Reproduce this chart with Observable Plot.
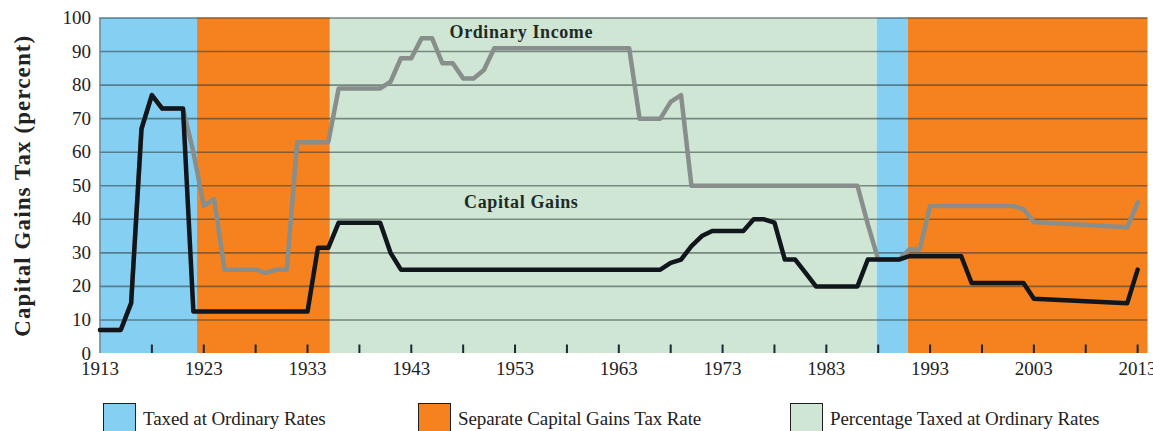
<!DOCTYPE html>
<html>
<head>
<meta charset="utf-8">
<script src="https://cdn.jsdelivr.net/npm/d3@7"></script>
<script src="https://cdn.jsdelivr.net/npm/@observablehq/plot@0.6"></script>
<style>
  html, body { margin: 0; padding: 0; background: #fff; }
  #wrap { position: relative; width: 1153px; height: 431px; overflow: hidden; }
  #chart svg, #chart svg text { font-family: "Liberation Serif", "DejaVu Serif", serif !important; }
  #legend { position: absolute; top: 403px; left: 0; width: 1153px; height: 28px; font-family: "Liberation Serif", serif; font-size: 19px; color: #222; }
  .item { position: absolute; top: 0; height: 28px; }
  .box { position: absolute; left: 0; top: 0; width: 31px; height: 30px; border: 1.5px solid #1e1e1e; border-bottom: none; }
  .lab { position: absolute; left: 40px; top: 6px; line-height: 19px; white-space: nowrap; letter-spacing: -0.1px; }
</style>
</head>
<body>
<div id="wrap">
  <div id="chart"></div>
  <div id="legend"></div>
</div>
<script>
// ---- data ----
const bandTypes = ["Taxed at Ordinary Rates", "Separate Capital Gains Tax Rate", "Percentage Taxed at Ordinary Rates"];
const bandColors = ["#84cff2", "#f5821f", "#cfe6d5"];
const bandStart = [1913, 1922.4, 1935.2, 1987.9, 1990.9];
const bandEnd   = [1922.4, 1935.2, 1987.9, 1990.9, 2014];
const bandKind  = [0, 1, 2, 0, 1];

// Capital gains (black line): year / rate breakpoints
const cgYears = [1913, 1915, 1916, 1917, 1918, 1919, 1921, 1922, 1933, 1934, 1935, 1936, 1940, 1941, 1942, 1967, 1968, 1969, 1970, 1971, 1972, 1975, 1976, 1977, 1978, 1979, 1980, 1981, 1982, 1986, 1987, 1990, 1991, 1996, 1997, 2002, 2003, 2012, 2013];
const cgRates = [7, 7, 15, 67, 77, 73, 73, 12.5, 12.5, 31.5, 31.5, 39, 39, 30, 25, 25, 27, 28, 32, 35, 36.5, 36.5, 40, 40, 39, 28, 28, 24, 20, 20, 28, 28, 29, 29, 21, 21, 16.3, 15, 25];

// Ordinary income (grey line): year / rate breakpoints
const oiYears = [1913, 1915, 1916, 1917, 1918, 1919, 1921, 1922, 1923, 1924, 1925, 1928, 1929, 1930, 1931, 1932, 1935, 1936, 1940, 1941, 1942, 1943, 1944, 1945, 1946, 1947, 1948, 1949, 1950, 1951, 1964, 1965, 1967, 1968, 1969, 1970, 1986, 1987, 1988, 1990, 1991, 1992, 1993, 2001, 2002, 2003, 2012, 2013];
const oiRates = [7, 7, 15, 67, 77, 73, 73, 60, 44, 46, 25, 25, 24, 25, 25, 63, 63, 79, 79, 81, 88, 88, 94, 94, 86.5, 86.5, 82, 82, 84.5, 91, 91, 70, 70, 75, 77, 50, 50, 38.5, 28, 28, 31, 31, 44, 44, 43, 39.2, 37.6, 45];

const yTicks = [0, 10, 20, 30, 40, 50, 60, 70, 80, 90, 100];
const xLabelYears = [1913, 1923, 1933, 1943, 1953, 1963, 1973, 1983, 1993, 2003, 2013];
const xTickYears = [1918, 1923, 1928, 1933, 1938, 1943, 1948, 1953, 1958, 1963, 1968, 1973, 1978, 1983, 1988, 1993, 1998, 2003, 2008, 2013];
const xDomain = [1913, 2014];
const yDomain = [0, 100];

const annoLabels = ["Ordinary Income", "Capital Gains"];
const annoYears = [1953.6, 1953.6];
const annoValues = [95.9, 45.2];

const yTitle = "Capital Gains Tax (percent)";

// ---- tables built from the arrays ----
const bands = bandStart.map((s, i) => ({start: s, end: bandEnd[i], type: bandTypes[bandKind[i]]}));
const cg = cgYears.map((y, i) => ({year: y, rate: cgRates[i]}));
const oi = oiYears.map((y, i) => ({year: y, rate: oiRates[i]}));
const annos = annoLabels.map((t, i) => ({label: t, year: annoYears[i], value: annoValues[i]}));

const chart = Plot.plot({
  width: 1153,
  height: 385,
  marginLeft: 99.5,
  marginRight: 5.5,
  marginTop: 17.5,
  marginBottom: 32,
  style: {fontFamily: "'Liberation Serif', serif", fontSize: "19px", color: "#222", background: "transparent"},
  x: {domain: xDomain},
  y: {domain: yDomain},
  color: {domain: bandTypes, range: bandColors},
  marks: [
    Plot.rect(bands, {x1: "start", x2: "end", fill: "type"}),
    Plot.ruleY(yTicks.filter(d => d > 0), {stroke: "#2f3a3a", strokeOpacity: 0.55, strokeWidth: 1.6}),
    Plot.ruleX([xDomain[0]], {stroke: "#6f8896", strokeWidth: 1.5}),
    Plot.tickX(xTickYears, {x: d => d, stroke: "#1b2733", strokeWidth: 2, insetTop: 327}),
    Plot.line(oi, {x: "year", y: "rate", stroke: "#888e8b", strokeWidth: 4.5, strokeLinejoin: "round"}),
    Plot.line(cg, {x: "year", y: "rate", stroke: "#11161c", strokeWidth: 4.5, strokeLinejoin: "round"}),
    Plot.text(annos, {x: "year", y: "value", text: "label", fontWeight: "bold", fontSize: 18, fill: "#1f2a27"}),
    Plot.axisX({ticks: xLabelYears, tickSize: 0, tickPadding: 8, tickFormat: d => String(d), fontSize: 19, fill: "#222", label: null}),
    Plot.axisY({ticks: yTicks, tickSize: 0, tickPadding: 9, fontSize: 19, fill: "#222", label: null}),
    Plot.text([yTitle], {frameAnchor: "left", textAnchor: "middle", rotate: -90, dx: -77, fontSize: 23, fontWeight: "bold", fill: "#222"})
  ]
});
document.getElementById("chart").appendChild(chart);

// letter spacing tweaks for the bold labels
chart.querySelectorAll("text").forEach(t => {
  if (t.textContent === yTitle) t.style.letterSpacing = "1.1px";
  if (annoLabels.includes(t.textContent)) t.style.letterSpacing = "0.6px";
});

// ---- HTML legend ----
const legendLefts = [103, 418, 790];
const legend = document.getElementById("legend");
bandTypes.forEach((t, i) => {
  const item = document.createElement("div");
  item.className = "item";
  item.style.left = legendLefts[i] + "px";
  const box = document.createElement("div");
  box.className = "box";
  box.style.background = bandColors[i];
  const lab = document.createElement("div");
  lab.className = "lab";
  lab.textContent = t;
  item.appendChild(box);
  item.appendChild(lab);
  legend.appendChild(item);
});
</script>
</body>
</html>
